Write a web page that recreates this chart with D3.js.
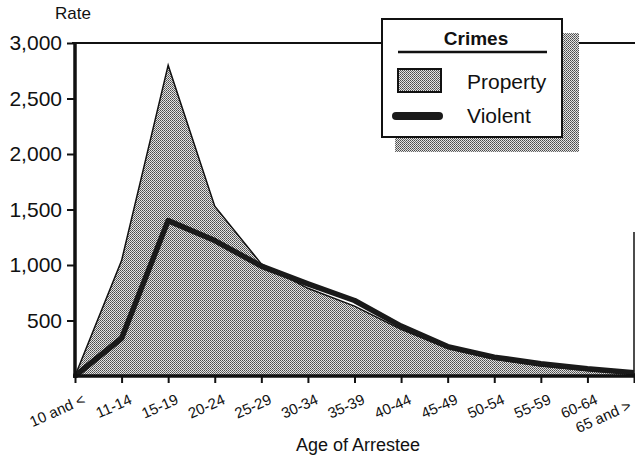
<!DOCTYPE html>
<html>
<head>
<meta charset="utf-8">
<script src="https://cdn.jsdelivr.net/npm/d3@7.9.0/dist/d3.min.js"></script>
<style>
  body { margin: 0; background: #fff; }
  svg { font-family: "Liberation Sans", Arial, sans-serif; }
</style>
</head>
<body>
<svg width="635" height="460"></svg>
<script>
// age groups on the x axis
const ages = ['10 and <', '11-14', '15-19', '20-24', '25-29', '30-34', '35-39',
  '40-44', '45-49', '50-54', '55-59', '60-64', '65 and >'];
// arrest rates
const property = [0, 1040, 2800, 1530, 1010, 790, 630, 420, 250, 150, 90, 50, 20];
const violent = [0, 340, 1400, 1220, 990, 830, 680, 450, 265, 170, 110, 65, 30];
const yTicks = [500, 1000, 1500, 2000, 2500, 3000];

const svg = d3.select('svg');

// stipple fill like the print
const defs = svg.append('defs');
const pat = defs.append('pattern').attr('id', 'dots')
  .attr('width', 2).attr('height', 2).attr('patternUnits', 'userSpaceOnUse');
pat.append('rect').attr('width', 2).attr('height', 2).attr('fill', '#e4e4e4');
pat.append('rect').attr('width', 1).attr('height', 1).attr('fill', '#4a4a4a');
pat.append('rect').attr('x', 1).attr('y', 1).attr('width', 1).attr('height', 1).attr('fill', '#6a6a6a');

const x = d3.scalePoint().domain(ages).range([75, 634]);
const y = d3.scaleLinear().domain([0, 3000]).range([376, 43]);

// top frame line and partial right edge
svg.append('line').attr('x1', 72).attr('x2', 635).attr('y1', y(3000)).attr('y2', y(3000))
  .attr('stroke', '#111').attr('stroke-width', 2);
svg.append('line').attr('x1', 634).attr('x2', 634).attr('y1', 232).attr('y2', 376)
  .attr('stroke', '#111').attr('stroke-width', 1.5);

// property area
const area = d3.area().x((d, i) => x(ages[i])).y0(y(0)).y1(d => y(d));
svg.append('path').datum(property).attr('d', area)
  .attr('fill', 'url(#dots)').attr('stroke', '#111').attr('stroke-width', 1.5);

// violent line
const line = d3.line().x((d, i) => x(ages[i])).y(d => y(d));
svg.append('path').datum(violent).attr('d', line)
  .attr('fill', 'none').attr('stroke', '#1a1a1a').attr('stroke-width', 5.5)
  .attr('stroke-linejoin', 'round');

// y axis
const yAxis = svg.append('g').attr('transform', 'translate(75,0)')
  .call(d3.axisLeft(y).tickValues(yTicks).tickSize(8).tickPadding(5).tickFormat(d3.format(',')));
yAxis.select('.domain').remove();
yAxis.selectAll('line').attr('stroke', '#111').attr('stroke-width', 2);
yAxis.selectAll('text').attr('font-size', 21).attr('fill', '#111');
svg.append('line').attr('x1', 75).attr('x2', 75).attr('y1', y(3000) - 1).attr('y2', y(0) + 2)
  .attr('stroke', '#111').attr('stroke-width', 3.5);

// x axis
const xAxis = svg.append('g').attr('transform', `translate(0,${y(0)})`)
  .call(d3.axisBottom(x).tickSize(7).tickPadding(6));
xAxis.select('.domain').remove();
xAxis.selectAll('line').attr('stroke', '#111').attr('stroke-width', 2);
xAxis.selectAll('text').attr('font-size', 15).attr('fill', '#111')
  .attr('text-anchor', 'end').attr('dy', '0.9em')
  .attr('transform', (d, i) => i === ages.length - 1 ? 'translate(-13,9) rotate(-24)' : 'translate(0,3) rotate(-24)');
svg.append('line').attr('x1', 73).attr('x2', 635).attr('y1', y(0)).attr('y2', y(0))
  .attr('stroke', '#111').attr('stroke-width', 3.5);

// titles
svg.append('text').attr('x', 55).attr('y', 19).attr('font-size', 17).attr('fill', '#111').text('Rate');
svg.append('text').attr('x', 358).attr('y', 451).attr('text-anchor', 'middle')
  .attr('font-size', 18).attr('fill', '#111').text('Age of Arrestee');

// legend with shadow
const lg = svg.append('g');
lg.append('rect').attr('x', 395).attr('y', 33).attr('width', 184).attr('height', 119).attr('fill', 'url(#dots)');
lg.append('rect').attr('x', 382).attr('y', 19).attr('width', 180).attr('height', 118)
  .attr('fill', '#fff').attr('stroke', '#111').attr('stroke-width', 2);
lg.append('text').attr('x', 476).attr('y', 45).attr('text-anchor', 'middle')
  .attr('font-size', 19).attr('font-weight', 'bold').attr('fill', '#111').text('Crimes');
lg.append('line').attr('x1', 398).attr('x2', 547).attr('y1', 52).attr('y2', 52)
  .attr('stroke', '#111').attr('stroke-width', 2.5);
lg.append('rect').attr('x', 398).attr('y', 69).attr('width', 43).attr('height', 23)
  .attr('fill', 'url(#dots)').attr('stroke', '#111').attr('stroke-width', 2);
lg.append('line').attr('x1', 396).attr('x2', 439).attr('y1', 116).attr('y2', 116)
  .attr('stroke', '#1a1a1a').attr('stroke-width', 8).attr('stroke-linecap', 'round');
lg.append('text').attr('x', 467).attr('y', 89).attr('font-size', 21).attr('fill', '#111').text('Property');
lg.append('text').attr('x', 467).attr('y', 123).attr('font-size', 21).attr('fill', '#111').text('Violent');
</script>
</body>
</html>
